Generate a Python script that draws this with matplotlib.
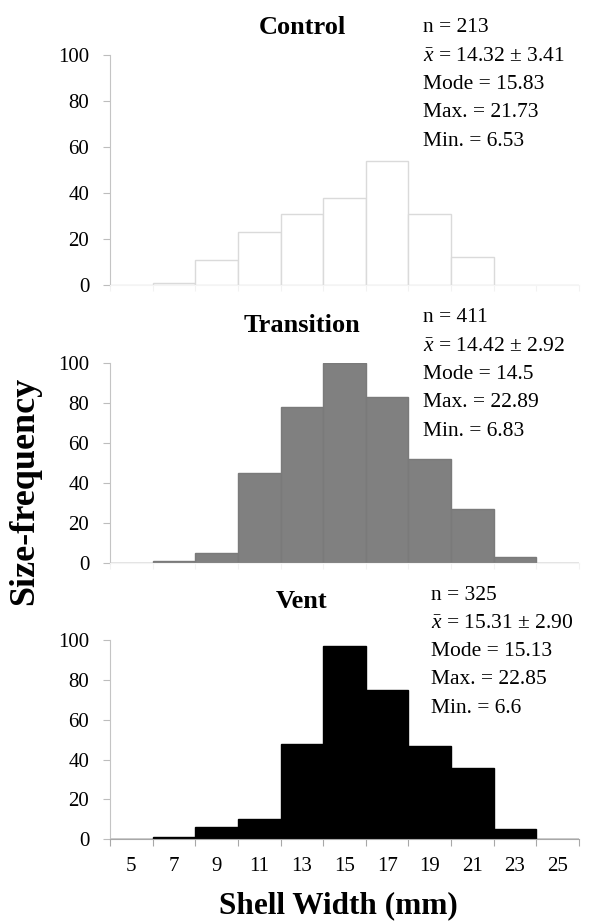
import matplotlib
matplotlib.use("Agg")
import matplotlib.pyplot as plt

plt.rcParams['font.family'] = ['Liberation Serif', 'DejaVu Serif']
plt.rcParams['mathtext.fontset'] = 'custom'
plt.rcParams['mathtext.rm'] = 'Liberation Serif'
plt.rcParams['mathtext.it'] = 'Liberation Serif:italic'

# shell width classes (bin centres, mm), 2 mm wide
widths = [5, 7, 9, 11, 13, 15, 17, 19, 21, 23, 25]

control = [0, 1, 11, 23, 31, 38, 54, 31, 12, 0, 0]
transition = [0, 1, 5, 45, 78, 100, 83, 52, 27, 3, 0]
vent = [0, 1, 6, 10, 48, 97, 75, 47, 36, 5, 0]

control_stats = ["n = 213", r"$\bar{x}$ = 14.32 ± 3.41", "Mode = 15.83",
                 "Max. = 21.73", "Min. = 6.53"]
transition_stats = ["n = 411", r"$\bar{x}$ = 14.42 ± 2.92", "Mode = 14.5",
                    "Max. = 22.89", "Min. = 6.83"]
vent_stats = ["n = 325", r"$\bar{x}$ = 15.31 ± 2.90", "Mode = 15.13",
              "Max. = 22.85", "Min. = 6.6"]

W, H = 605, 923
fig = plt.figure(figsize=(W / 100, H / 100), dpi=100)

def px(x, y):
    return x / W, 1 - y / H

# (name, counts, stats, fill, edge, axis bottom px, axis top px, stats x, stats y, title y)
panels = [
    ("Control", control, control_stats, "white", "#dadada", 285, 55, 423, 28, 28),
    ("Transition", transition, transition_stats, "#808080", "#7a7a7a", 562.7, 363.3, 423, 318, 325),
    ("Vent", vent, vent_stats, "black", "black", 839.3, 640, 431, 595, 602),
]

left, right = 110, 579
for i, (name, counts, stats, fc, ec, y0, y1, sx, sy, ty) in enumerate(panels):
    ax = fig.add_axes([left / W, 1 - y0 / H, (right - left) / W, (y0 - y1) / H])
    ax.bar(widths, counts, width=2, color=fc, edgecolor=ec, linewidth=1.0)
    ax.set_xlim(4, 26)
    ax.set_ylim(0, 100)
    ax.set_yticks(range(0, 101, 20))
    ax.tick_params(axis='y', direction='out', length=5, color='#bdbdbd',
                   labelsize=15, pad=10)
    for s in ['top', 'right']:
        ax.spines[s].set_visible(False)
    ax.spines['left'].set_color('#c4c4c4')
    ax.set_facecolor('none')
    last = i == len(panels) - 1
    if last:
        ax.spines['bottom'].set_color('#a8a8a8')
        ax.set_xticks(range(4, 27, 2))
        ax.set_xticklabels([])
        ax.set_xticks(widths, minor=True)
        ax.set_xticklabels([str(w) for w in widths], minor=True)
        ax.tick_params(axis='x', which='major', direction='out', length=5,
                       color='#a8a8a8')
        ax.tick_params(axis='x', which='minor', length=0, labelsize=15, pad=13)
    else:
        ax.spines['bottom'].set_color('#f4f4f4')
        ax.set_xticks(range(4, 27, 2))
        ax.set_xticklabels([])
        ax.tick_params(axis='x', direction='out', length=4, color='#f2f2f2')

    fig.text(*px(302, ty), name, ha='center', va='center',
             fontsize=19, fontweight='bold')
    for k, line in enumerate(stats):
        fig.text(*px(sx, sy + k * 28.3), line, ha='left', va='center',
                 fontsize=15.5)

fig.text(*px(25, 491), "Size-frequency", rotation=90, ha='center',
         va='center', fontsize=26, fontweight='bold')
fig.text(*px(338, 906), "Shell Width (mm)", ha='center', va='center',
         fontsize=22.5, fontweight='bold')

fig.savefig("out.png", dpi=100)
